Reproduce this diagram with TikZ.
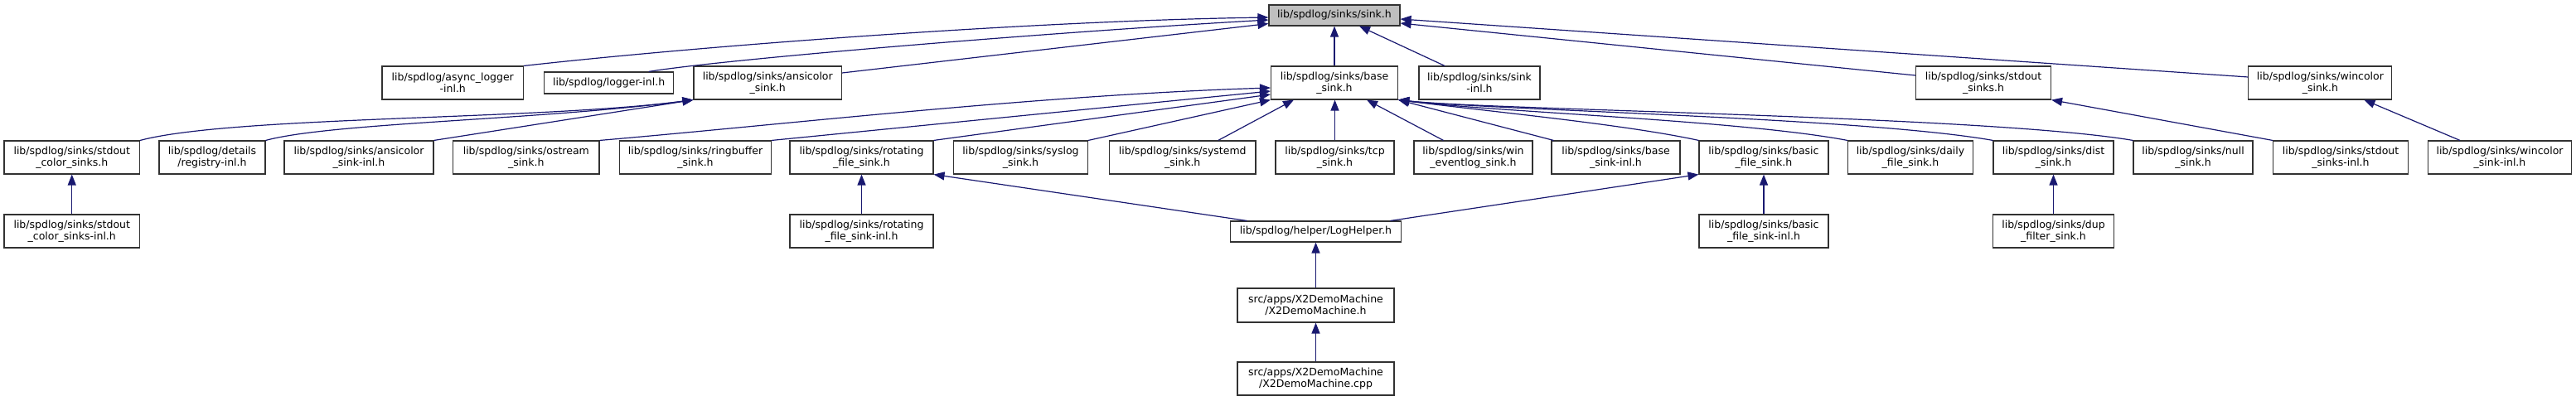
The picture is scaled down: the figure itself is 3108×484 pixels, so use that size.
\documentclass[tikz,border=0pt]{standalone}
\usepackage{fontspec}
\setmainfont{DejaVu Sans}
\usetikzlibrary{arrows.meta}
\definecolor{edgeblue}{RGB}{25,25,112}
\definecolor{rootgrey}{RGB}{191,191,191}
\definecolor{boxline}{RGB}{50,50,50}
\tikzset{
  filebox/.style={draw=boxline, line width=1.1pt, fill=white, align=center, inner sep=0pt,
    minimum height=40pt, font=\fontsize{12.5pt}{14pt}\selectfont},
  onebox/.style={filebox, minimum height=26pt},
  rootbox/.style={onebox, fill=rootgrey, minimum height=25pt},
  dep/.style={draw=edgeblue, line width=1.2pt, -{Triangle[length=13pt,width=10pt]}},
}
\begin{document}
\begin{tikzpicture}[x=1pt,y=-1pt]
\useasboundingbox (0,0) rectangle (3108,484);
% row 1
\node[rootbox, minimum width=158pt] (sink) at (1610,18.5) {lib/spdlog/sinks/sink.h};
% row 2
\node[filebox, minimum width=170.5pt] (async) at (546.25,100) {lib/spdlog/async\_logger\\-inl.h};
\node[onebox, minimum width=156pt] (logger) at (734.6,100) {lib/spdlog/logger-inl.h};
\node[filebox, minimum width=178.5pt] (ansi) at (926.25,100) {lib/spdlog/sinks/ansicolor\\\_sink.h};
\node[filebox, minimum width=153pt] (base) at (1610,100) {lib/spdlog/sinks/base\\\_sink.h};
\node[filebox, minimum width=146pt] (sinkinl) at (1785,100) {lib/spdlog/sinks/sink\\-inl.h};
\node[filebox, minimum width=163pt] (stdout) at (2393,100) {lib/spdlog/sinks/stdout\\\_sinks.h};
\node[filebox, minimum width=173pt] (wincolor) at (2799.4,100) {lib/spdlog/sinks/wincolor\\\_sink.h};
% row 3
\node[filebox, minimum width=163.5pt] (stdoutcolor) at (86.75,190) {lib/spdlog/sinks/stdout\\\_color\_sinks.h};
\node[filebox, minimum width=128pt] (registry) at (256,190) {lib/spdlog/details\\/registry-inl.h};
\node[filebox, minimum width=180pt] (ansiinl) at (433,190) {lib/spdlog/sinks/ansicolor\\\_sink-inl.h};
\node[filebox, minimum width=176.4pt] (ostream) at (634.8,190) {lib/spdlog/sinks/ostream\\\_sink.h};
\node[filebox, minimum width=183pt] (ringbuf) at (839,190) {lib/spdlog/sinks/ringbuffer\\\_sink.h};
\node[filebox, minimum width=173pt] (rotating) at (1039.5,190) {lib/spdlog/sinks/rotating\\\_file\_sink.h};
\node[filebox, minimum width=162pt] (syslog) at (1231.5,190) {lib/spdlog/sinks/syslog\\\_sink.h};
\node[filebox, minimum width=176.5pt] (systemd) at (1426.75,190) {lib/spdlog/sinks/systemd\\\_sink.h};
\node[filebox, minimum width=143pt] (tcp) at (1610.5,190) {lib/spdlog/sinks/tcp\\\_sink.h};
\node[filebox, minimum width=143pt] (winevt) at (1777.5,190) {lib/spdlog/sinks/win\\\_eventlog\_sink.h};
\node[filebox, minimum width=155pt] (baseinl) at (1949.5,190) {lib/spdlog/sinks/base\\\_sink-inl.h};
\node[filebox, minimum width=156pt] (basic) at (2128,190) {lib/spdlog/sinks/basic\\\_file\_sink.h};
\node[filebox, minimum width=151pt] (daily) at (2305,190) {lib/spdlog/sinks/daily\\\_file\_sink.h};
\node[filebox, minimum width=145pt] (dist) at (2477.5,190) {lib/spdlog/sinks/dist\\\_sink.h};
\node[filebox, minimum width=144pt] (null) at (2646,190) {lib/spdlog/sinks/null\\\_sink.h};
\node[filebox, minimum width=163pt] (stdoutinl) at (2824,190) {lib/spdlog/sinks/stdout\\\_sinks-inl.h};
\node[filebox, minimum width=173.5pt] (wincolorinl) at (3016,190) {lib/spdlog/sinks/wincolor\\\_sink-inl.h};
% row 4
\node[filebox, minimum width=163.5pt] (stdoutcolorinl) at (86.75,279) {lib/spdlog/sinks/stdout\\\_color\_sinks-inl.h};
\node[filebox, minimum width=173pt] (rotatinginl) at (1039.5,279) {lib/spdlog/sinks/rotating\\\_file\_sink-inl.h};
\node[onebox, minimum width=206pt, minimum height=25pt] (loghelper) at (1587.5,279.5) {lib/spdlog/helper/LogHelper.h};
\node[filebox, minimum width=156pt] (basicinl) at (2128,279) {lib/spdlog/sinks/basic\\\_file\_sink-inl.h};
\node[filebox, minimum width=146pt] (dup) at (2477.5,279) {lib/spdlog/sinks/dup\\\_filter\_sink.h};
% rows 5-6
\node[filebox, minimum width=189pt, minimum height=41pt] (x2h) at (1587.5,368.5) {src/apps/X2DemoMachine\\/X2DemoMachine.h};
\node[filebox, minimum width=189pt] (x2cpp) at (1587.5,457) {src/apps/X2DemoMachine\\/X2DemoMachine.cpp};

% edges to sink.h
\draw[dep] (async.north east) .. controls (850,55) and (1250,25) .. ([yshift=-2.5pt]sink.west);
\draw[dep] ([xshift=48pt]logger.north) .. controls (870,72) and (1250,40) .. ([yshift=-5.5pt]sink.west);
\draw[dep] ([yshift=12pt]ansi.east) -- ([yshift=-10pt]sink.west);
\draw[dep] (base.north) -- (sink.south);
\draw[dep] ([xshift=-42pt]sinkinl.north) -- ([xshift=30pt]sink.south);
\draw[dep] ([yshift=9pt]stdout.west) -- ([yshift=-9.5pt]sink.east);
\draw[dep] ([yshift=7pt]wincolor.west) -- ([yshift=-4.5pt]sink.east);
% edges to ansicolor_sink.h
\draw[dep] (stdoutcolor.north east) .. controls (280,140) and (650,145) .. (ansi.south west);
\draw[dep] (registry.north east) .. controls (400,148) and (650,145) .. (ansi.south west);
\draw[dep] (ansiinl.north east) -- (ansi.south west);
% edges to base_sink.h
\draw[dep] (ostream.north east) .. controls (950,150) and (1250,115) .. ([yshift=-6pt]base.west);
\draw[dep] (ringbuf.north east) -- ([yshift=-10pt]base.west);
\draw[dep] (rotating.north east) -- ([yshift=-14pt]base.west);
\draw[dep] (syslog.north east) -- (base.south west);
\draw[dep] ([xshift=43pt]systemd.north) -- ([xshift=-49pt]base.south);
\draw[dep] (tcp.north) -- (tcp.north |- base.south);
\draw[dep] ([xshift=-36pt]winevt.north) -- ([xshift=39pt]base.south);
\draw[dep] ([xshift=3pt]baseinl.north west) -- (base.south east);
\draw[dep] (basic.north west) .. controls (1960,150) and (1800,135) .. (base.south east);
\draw[dep] (daily.north west) .. controls (2100,145) and (1800,135) .. (base.south east);
\draw[dep] (dist.north west) .. controls (2250,142) and (1800,133) .. (base.south east);
\draw[dep] (null.north west) .. controls (2400,140) and (1800,133) .. (base.south east);
% other edges
\draw[dep] (stdoutinl.north west) -- (stdout.south east);
\draw[dep] ([xshift=-48pt]wincolorinl.north) -- ([xshift=53pt]wincolor.south);
\draw[dep] (stdoutcolorinl.north) -- (stdoutcolor.south);
\draw[dep] (rotatinginl.north) -- (rotating.south);
\draw[dep] ([xshift=-83pt]loghelper.north) -- (rotating.south east);
\draw[dep] ([xshift=90pt]loghelper.north) -- (basic.south west);
\draw[dep] (basicinl.north) -- (basic.south);
\draw[dep] (dup.north) -- (dist.south);
\draw[dep] (x2h.north) -- (loghelper.south);
\draw[dep] (x2cpp.north) -- (x2h.south);
\end{tikzpicture}
\end{document}
